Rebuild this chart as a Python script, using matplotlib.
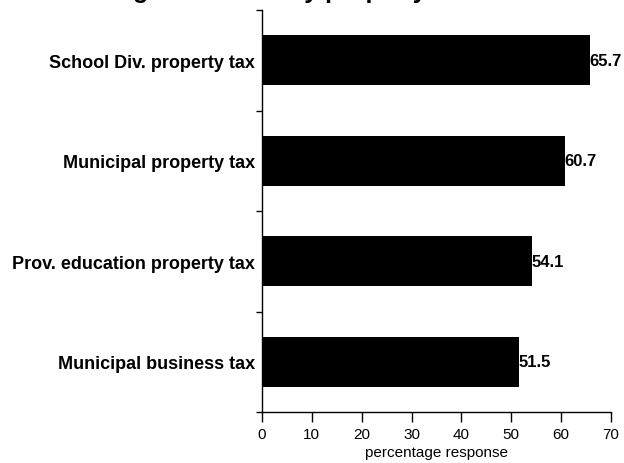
import numpy as np
import matplotlib
matplotlib.use('Agg')
import matplotlib.pyplot as plt

plt.rcParams['font.family'] = ['Liberation Sans', 'DejaVu Sans']

taxes = ['Municipal business tax', 'Prov. education property tax',
         'Municipal property tax', 'School Div. property tax']
pct = [51.5, 54.1, 60.7, 65.7]

fig = plt.figure(figsize=(6.24, 4.64), dpi=100)
ax = fig.add_axes([262/624, 1 - 413/464, 349/624, 402/464])

pos = np.arange(len(taxes))
ax.barh(pos, pct, height=0.5, color='black')
for y, v in zip(pos, pct):
    ax.text(v, y, '%.1f' % v, ha='left', va='center', fontsize=12, fontweight='bold')

ax.set_xlim(0, 70)
ax.set_ylim(-0.5, len(taxes) - 0.5)
ax.set_xticks(range(0, 71, 10))
ax.tick_params(axis='x', direction='out', length=7, width=1, labelsize=11, pad=4)
ax.set_yticks(pos)
ax.set_yticklabels(taxes, fontsize=13, fontweight='bold')
ax.set_yticks(np.arange(-0.5, len(taxes), 1), minor=True)
ax.tick_params(axis='y', which='major', length=0, pad=5)
ax.tick_params(axis='y', which='minor', direction='out', length=4, width=1)
ax.set_xlabel('percentage response', fontsize=11, labelpad=3)
for s in ['top', 'right']:
    ax.spines[s].set_visible(False)
ax.spines['left'].set_linewidth(1)
ax.spines['bottom'].set_linewidth(1)

# title sits mostly above the top edge
fig.text(50/624, 1.0 + 2/464, 'Ranking of fairness by property tax', ha='left', va='baseline',
         fontsize=18, fontweight='bold')

fig.savefig('out.png', dpi=100)
